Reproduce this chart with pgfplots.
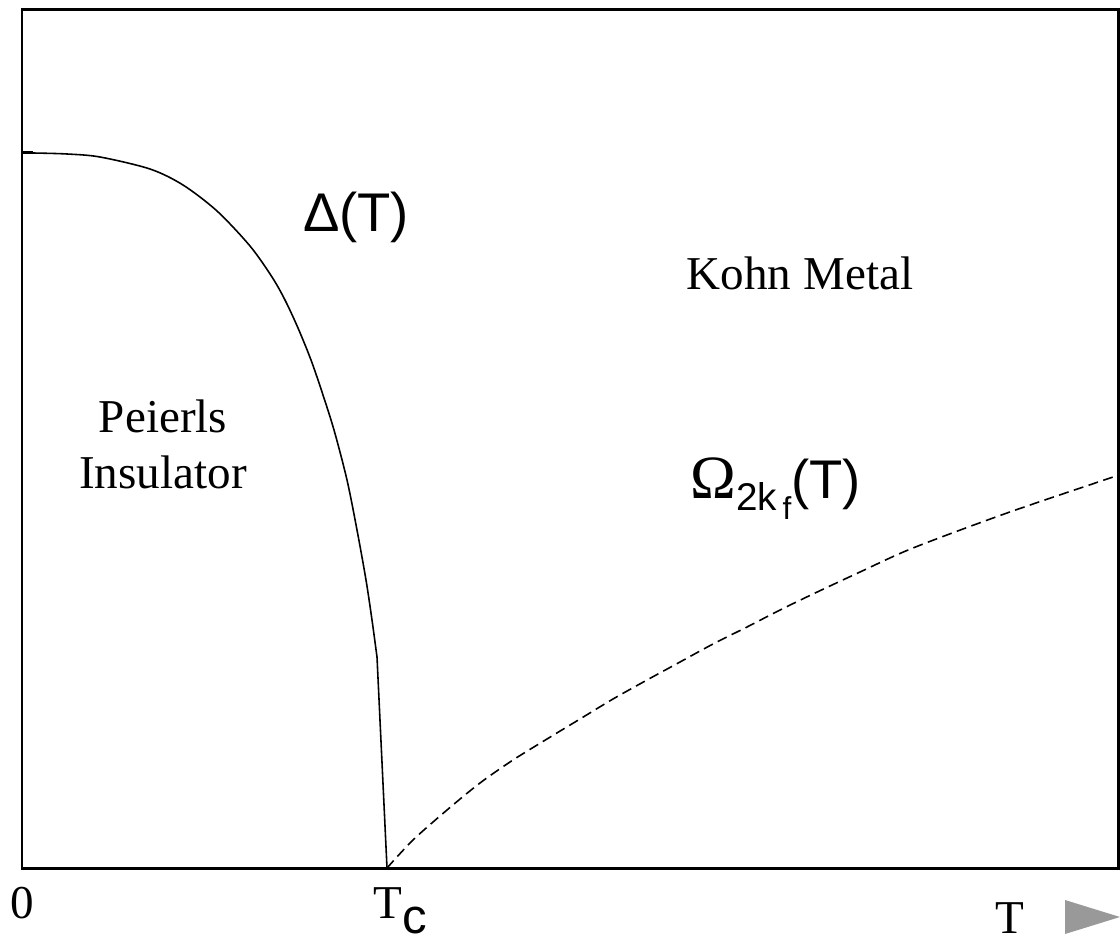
\documentclass[border=0pt]{standalone}
\usepackage{fontspec}
\setmainfont{Liberation Serif}
\setsansfont{Liberation Sans}
\usepackage{pgfplots}
\pgfplotsset{compat=1.18}
\usetikzlibrary{calc}
\definecolor{arrowgray}{RGB}{153,153,153}

% curves, in pixel units from the lower left corner of the frame
\pgfplotstableread{
x y
0 715
11 715
45 714
78 711
128 699
161 683
195 657
228 622
250 591
263 568
276 540
289 508
300 476
312 438
325 388
335 338
344 288
350 248
355 211
}\gapdata
\pgfplotstableread{
x y
355 211
365 0
}\gaptail
\pgfplotstableread{
x y
365 0
391 28
425 58
458 85
491 108
525 129
558 149
591 169
625 188
658 206
691 224
725 241
758 258
791 274
838 296
891 320
985 355
1091 391
1096 393
}\phonondata

\begin{document}
\begin{tikzpicture}
\begin{axis}[
  name=ax,
  scale only axis,
  width=10.96cm, height=8.58cm,
  xmin=0, xmax=1096, ymin=0, ymax=858,
  axis line style={line width=0.85pt},
  xtick=\empty,
  ytick={715}, yticklabels={}, ytick pos=left,
  tick align=inside, major tick length=0.11cm,
  major tick style={line width=0.85pt, black},
  clip=false,
]
\addplot[black, line width=0.45pt, no marks, smooth, tension=0.5] table {\gapdata};
\addplot[black, line width=0.45pt, no marks] table {\gaptail};
\addplot[black, line width=0.45pt, no marks, smooth, tension=0.5, dash pattern=on 1mm off 0.55mm] table {\phonondata};

\node[anchor=base, font=\fontsize{13.4}{14}\selectfont] at (axis cs:0,-50) {0};
\node[anchor=base west, inner sep=0pt, font=\fontsize{13.4}{14}\selectfont] at (axis cs:351,-50) {T\raisebox{-0.7ex}{\sffamily\fontsize{14}{14}\selectfont c}};
\node[anchor=base west, inner sep=0pt, font=\fontsize{13.4}{14}\selectfont] at (axis cs:973,-65) {T};
\fill[arrowgray] (axis cs:1043,-32) -- (axis cs:1043,-66) -- (axis cs:1098,-49) -- cycle;

\node[anchor=base, font=\sffamily\fontsize{15.5}{16}\selectfont] at (axis cs:334,636) {Δ(T)};
\node[anchor=base, font=\fontsize{13.4}{14}\selectfont] at (axis cs:778,578) {Kohn Metal};
\node[anchor=base, font=\fontsize{13.4}{14}\selectfont] at (axis cs:141,436) {Peierls};
\node[anchor=base, font=\fontsize{13.4}{14}\selectfont] at (axis cs:141,380) {Insulator};
\node[anchor=base west, inner sep=0pt] at (axis cs:668,370) {{\fontsize{17.5}{18}\selectfont Ω}\raisebox{-1.2mm}{\sffamily\fontsize{11}{11}\selectfont 2k\raisebox{-0.9mm}{\fontsize{9}{9}\selectfont\,f}}{\sffamily\fontsize{15.5}{16}\selectfont (T)}};
\end{axis}
\pgfresetboundingbox
\useasboundingbox ($(ax.south west)+(-0.22cm,-0.75cm)$) rectangle ($(ax.north east)+(0.02cm,0.1cm)$);
\end{tikzpicture}
\end{document}
